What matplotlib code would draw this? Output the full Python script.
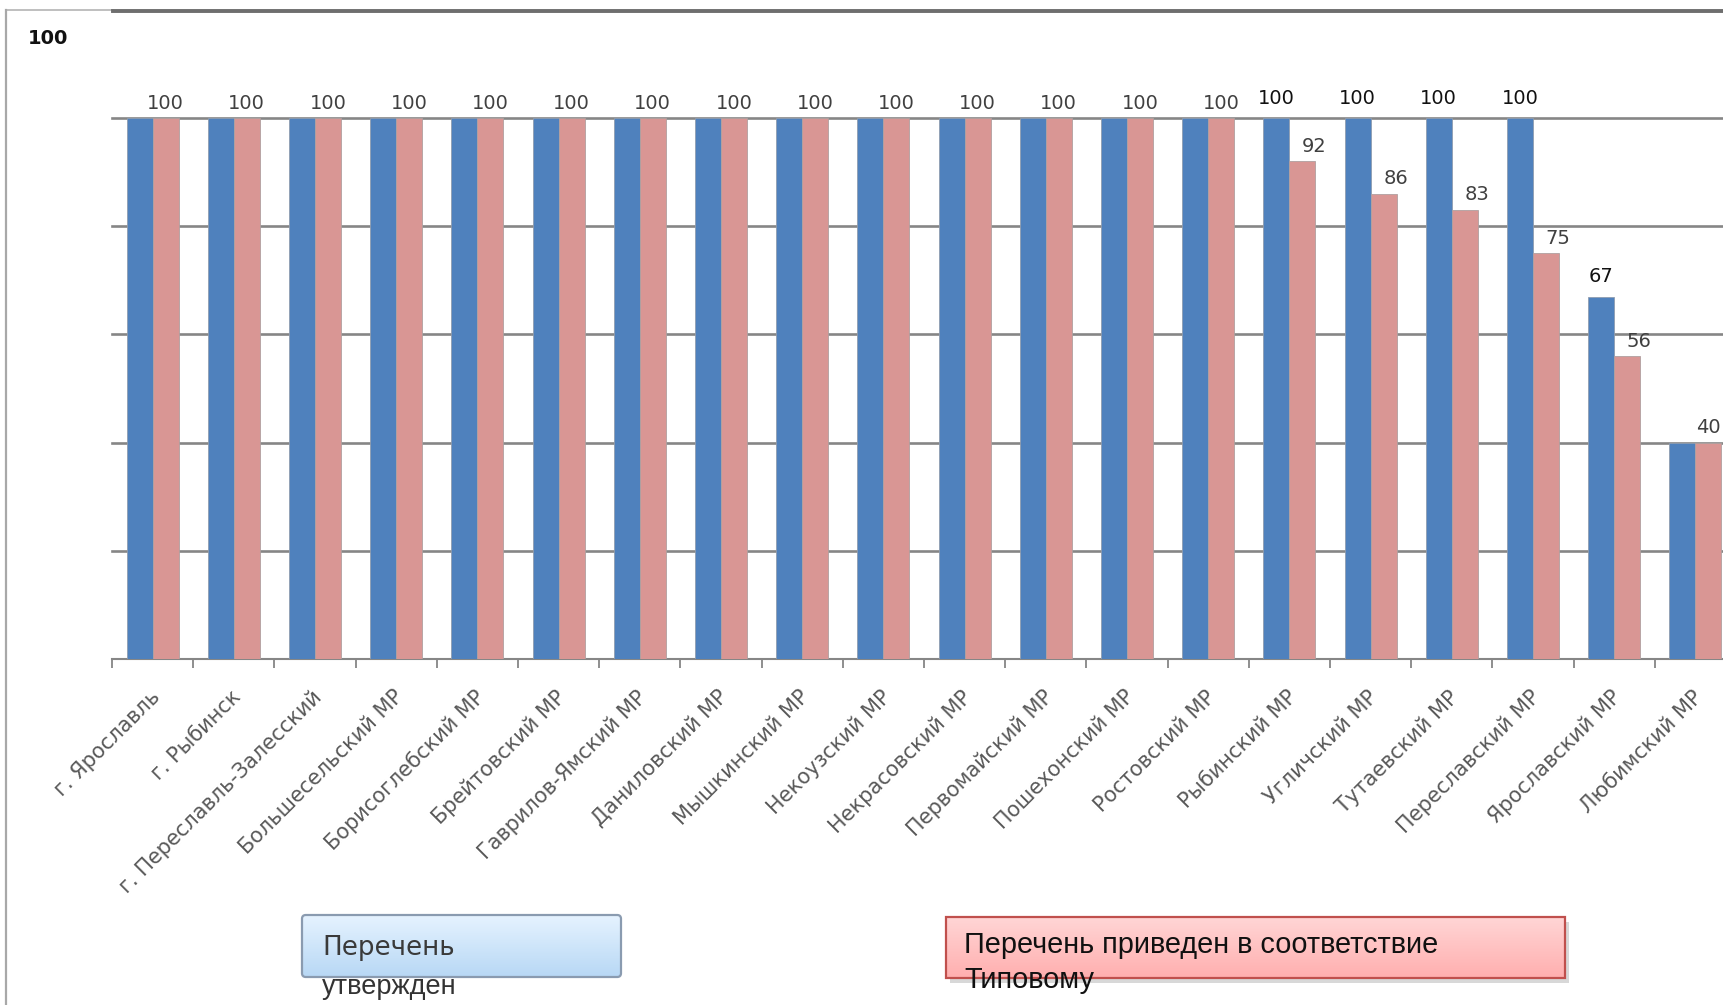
import matplotlib

matplotlib.use("Agg")
import matplotlib.pyplot as plt
import numpy as np
from matplotlib.colors import LinearSegmentedColormap
from matplotlib.lines import Line2D
from matplotlib.patches import FancyBboxPatch, Rectangle
from matplotlib.transforms import ScaledTranslation

districts = [
    "г. Ярославль", "г. Рыбинск", "г. Переславль-Залесский", "Большесельский МР",
    "Борисоглебский МР", "Брейтовский МР", "Гаврилов-Ямский МР", "Даниловский МР",
    "Мышкинский МР", "Некоузский МР", "Некрасовский МР", "Первомайский МР",
    "Пошехонский МР", "Ростовский МР", "Рыбинский МР", "Угличский МР",
    "Тутаевский МР", "Переславский МР", "Ярославский МР", "Любимский МР",
]
approved = [100, 100, 100, 100, 100, 100, 100, 100, 100, 100,
            100, 100, 100, 100, 100, 100, 100, 100, 67, 40]
aligned = [100, 100, 100, 100, 100, 100, 100, 100, 100, 100,
           100, 100, 100, 100, 92, 86, 83, 75, 56, 40]

W, H = 1723, 1005
BLUE = "#4f81bd"
PINK = "#d99694"
GRID = "#868686"


def fx(px):
    return px / W


def fy(py):
    return 1 - py / H


def note_box(x0, y0, x1, y1, top, bottom, edge, rounding):
    bax = fig.add_axes([fx(x0), fy(y1), (x1 - x0) / W, (y1 - y0) / H])
    bax.set_axis_off()
    cmap = LinearSegmentedColormap.from_list("g", [top, bottom])
    grad = np.linspace(0, 1, 64).reshape(-1, 1)
    im = bax.imshow(grad, aspect="auto", cmap=cmap, extent=[0, 1, 0, 1], origin="upper")
    frame = FancyBboxPatch((0, 0), 1, 1, boxstyle=f"round,pad=0,rounding_size={rounding}",
                           mutation_aspect=(x1 - x0) / (y1 - y0),
                           transform=bax.transAxes, facecolor="none",
                           edgecolor=edge, linewidth=1.6, clip_on=False)
    bax.add_patch(frame)
    im.set_clip_path(frame)
    return bax


fig = plt.figure(figsize=(W / 100, H / 100), dpi=100)

ax = fig.add_axes([fx(112), fy(659), 1624 / W, (659 - 118) / H])
x = np.arange(len(districts))
bw = 0.32
ax.bar(x - bw / 2, approved, bw, color=BLUE, edgecolor="#8f9db0", linewidth=0.6, zorder=3)
ax.bar(x + bw / 2, aligned, bw, color=PINK, edgecolor="#b0a0a0", linewidth=0.6, zorder=3)

ax.set_xlim(-0.5, len(districts) - 0.5)
ax.set_ylim(0, 100)
ax.set_yticks([20, 40, 60, 80, 100])
ax.yaxis.grid(True, color=GRID, linewidth=1.9, zorder=1)
for gl in ax.get_ygridlines():
    gl.set_clip_on(False)
ax.tick_params(axis="y", length=0, labelleft=False)
for side in ["left", "right", "top"]:
    ax.spines[side].set_visible(False)
ax.spines["bottom"].set_color(GRID)
ax.spines["bottom"].set_linewidth(1.5)

ax.set_xticks(x)
ax.set_xticklabels(districts, rotation=45, ha="right", va="center",
                   rotation_mode="anchor", fontsize=15, color="#595959")
ax.tick_params(axis="x", which="major", length=0, pad=25)
shift = ScaledTranslation(4 / 100, 0, fig.dpi_scale_trans)
for lab in ax.get_xticklabels():
    lab.set_transform(lab.get_transform() + shift)
ax.set_xticks(np.arange(-0.5, len(districts)), minor=True)
ax.tick_params(axis="x", which="minor", length=6.5, width=1.3, color=GRID)

# value labels
for i, (a, b) in enumerate(zip(approved, aligned)):
    nudge = 12 if b < a else 0
    ax.annotate(str(b), (i + bw / 2, b), xytext=(nudge, 15), textcoords="offset pixels",
                ha="center", va="center", fontsize=14, color="#404040",
                annotation_clip=False)
    if a != b:
        ax.annotate(str(a), (i - bw / 2, a), xytext=(0, 20), textcoords="offset pixels",
                    ha="center", va="center", fontsize=14, color="#111111",
                    annotation_clip=False)

# stray axis label and frame lines of the screenshot
fig.text(fx(28), fy(38), "100", fontsize=14, fontweight="bold", color="#111111",
         va="center", ha="left")
fig.add_artist(Line2D([fx(6), fx(113)], [fy(10), fy(10)], color="#b4b4b4", linewidth=1.2))
fig.add_artist(Line2D([fx(113), 1], [fy(11), fy(11)], color="#6e6e6e", linewidth=2.8))
fig.add_artist(Line2D([fx(6), fx(6)], [fy(10), 0], color="#a8a8a8", linewidth=1.6))

# note boxes
note_box(302, 915, 621, 977, "#e6f3ff", "#b8d8f5", "#8a9bb0", 0.012)
fig.text(fx(322), fy(948), "Перечень", fontsize=18.8, color="#3a3a3a", va="center", ha="left")
fig.text(fx(322), fy(987), "утвержден", fontsize=19.5, color="#333333", va="center", ha="left",
         family="Liberation Sans")

fig.add_artist(Rectangle((fx(950), fy(983)), (1565 - 946) / W, (978 - 917) / H,
                         transform=fig.transFigure, facecolor="#c8c8c8", alpha=0.7,
                         edgecolor="none", zorder=-1))
note_box(946, 917, 1565, 978, "#ffd6d6", "#ffafaf", "#c0504d", 0.0)
fig.text(fx(964), fy(945), "Перечень приведен в соответствие", fontsize=20.8, color="#111111",
         va="center", ha="left", family="Liberation Sans")
fig.text(fx(964), fy(980), "Типовому", fontsize=20.8, color="#111111",
         va="center", ha="left", family="Liberation Sans")

fig.savefig("out.png", dpi=100)
